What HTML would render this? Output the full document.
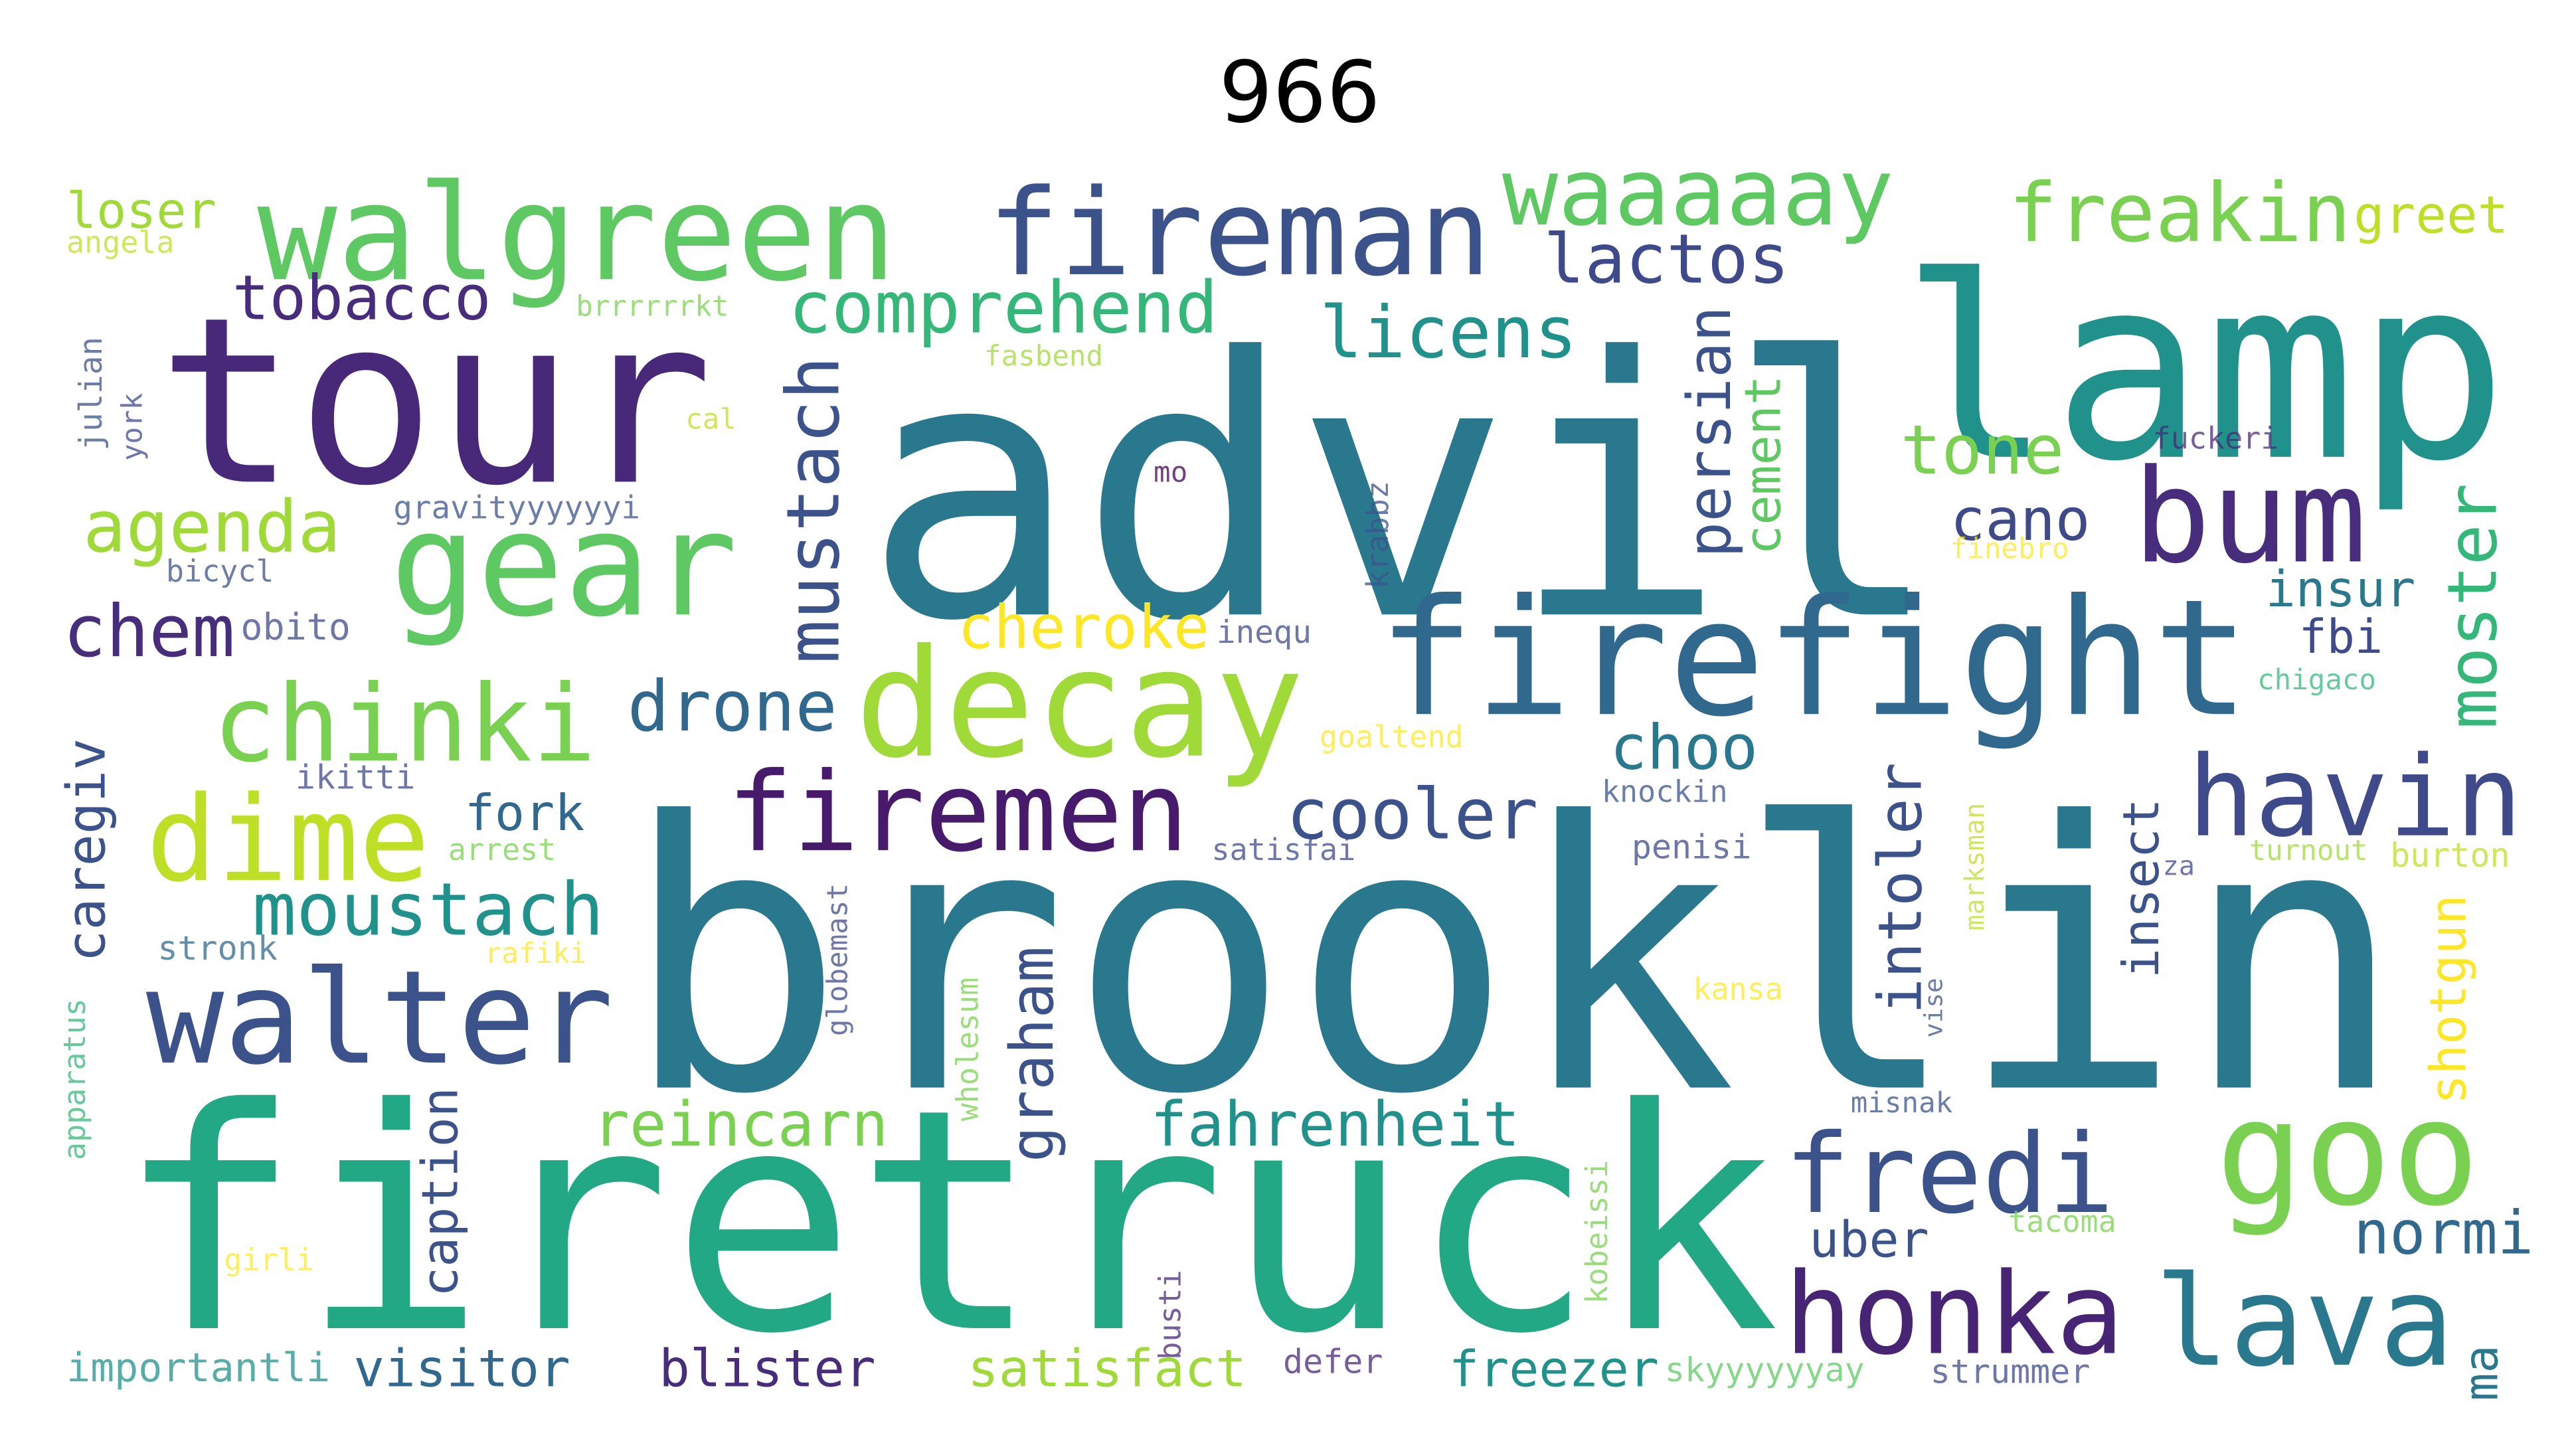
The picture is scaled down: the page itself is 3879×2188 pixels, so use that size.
<!DOCTYPE html>
<html><head><meta charset="utf-8">
<style>
html,body{margin:0;padding:0;background:#fff;}
svg{display:block;}
</style></head>
<body>
<svg id="cloud" width="3879" height="2188" viewBox="0 0 1552 875" xmlns="http://www.w3.org/2000/svg">
<rect width="1552" height="875" fill="#fff"/>
<text x="783" y="73" text-anchor="middle" font-family="DejaVu Sans, Liberation Sans, sans-serif" font-size="51" fill="#000">966</text>
<g id="words"></g>
</svg>
<script>
// word, x, y, font size, color, rotation (0 = horizontal left/baseline, 1 = vertical, centered)
const words = ["brooklin","advil","firetruck","tour","lamp","walgreen","fireman","firefight","gear","decay","chinki","dime","firemen","walter","havin","bum","goo","fredi","honka","lava","waaaaay","freakin","greet","lactos","comprehend","tobacco","loser","angela","licens","persian","cement","tone","cano","moster","insur","fbi","chigaco","agenda","chem","obito","mustach","drone","cheroke","inequ","krabbz","fork","moustach","cooler","choo","knockin","penisi","intoler","insect","marksman","shotgun","turnout","burton","za","vise","kansa","misnak","caregiv","stronk","rafiki","arrest","ikitti","goaltend","satisfai","globemast","wholesum","graham","caption","apparatus","reincarn","fahrenheit","girli","busti","kobeissi","tacoma","uber","normi","importantli","visitor","blister","satisfact","defer","freezer","skyyyyyyay","strummer","ma","brrrrrrkt","fasbend","cal","julian","york","gravityyyyyyi","bicycl","mo","fuckeri","finebro"];
const xs = [375,520,70,95,1145,155,595,830,235,515,128,88,438,88,1318,1285,1335,1075,1075,1298,905,1210,1418,930,475,140,40,40,795,1030,1062,1145,1175,1490,1365,1385,1360,50,38,145,490,378,577,733,830,280,152,775,970,965,983,1145,1290,1190,1475,1355,1440,1303,1165,1020,1115,52,95,292,270,178,795,730,505,583,622,265,45,357,693,135,705,962,1210,1090,1418,40,213,397,583,773,873,1003,1163,1495,347,593,413,55,80,237,100,695,1297,1175];
const ys = [655,370,800,290,275,168,165,430,370,455,458,530,512,640,503,338,725,730,815,822,135,145,140,170,200,192,137,152,215,260,280,285,325,365,365,393,415,332,395,385,307,440,390,387,322,500,563,505,463,483,517,535,535,522,602,518,522,527,607,602,670,512,578,580,518,475,450,518,578,632,635,718,650,690,690,765,792,742,742,757,755,832,835,835,835,827,835,832,833,827,190,220,258,237,257,312,350,290,270,336];
const sizes = [223,216,185,139,152,80,72,97,87,90,64,71,66,78,67,78,88,66,68,75,56,49,31,41,43,37,30,18,43,36,30,41,35,41,30,28,17,43,43,22,44,42,36,19,18,30,44,42,37,18,20,36,30,16,30,17,20,16,15,18,17,32,20,17,18,20,18,18,17,18,36,30,18,37,37,18,18,18,18,30,36,24,31,31,31,20,30,20,20,28,17,17,17,19,17,19,18,17,18,17];
const colors = ["#2a788e","#2a788e","#22a884","#482878","#21918c","#5ec962","#3b528b","#31688e","#5ec962","#a0da39","#7ad151","#bddf26","#481a6c","#3b528b","#3e4a89","#472d7b","#7ad151","#3b528b","#482475","#2a788e","#5ec962","#7ad151","#bddf26","#3e4a89","#35b779","#472d7b","#a0da39","#bddf26","#21918c","#3b528b","#5ec962","#7ad151","#3e4a89","#35b779","#2a788e","#3e4a89","#35b779","#a0da39","#472d7b","#3e4a89","#3b528b","#31688e","#fde725","#3e4a89","#3b528b","#31688e","#21918c","#3b528b","#2a788e","#3b528b","#3e4a89","#3b528b","#3b528b","#bddf26","#fde725","#a0da39","#bddf26","#3e4a89","#3b528b","#fde725","#3b528b","#3b528b","#31688e","#fde725","#7ad151","#3e4a89","#fde725","#3e4a89","#3e4a89","#7ad151","#3b528b","#3b528b","#35b779","#7ad151","#21918c","#fde725","#482878","#7ad151","#7ad151","#3b528b","#31688e","#21918c","#31688e","#472d7b","#a0da39","#482878","#21918c","#5ec962","#3e4a89","#2a788e","#7ad151","#a0da39","#bddf26","#3b528b","#3e4a89","#3b528b","#3b528b","#440154","#482878","#fde725"];
const rot = [0,0,0,0,0,0,0,0,0,0,0,0,0,0,0,0,0,0,0,0,0,0,0,0,0,0,0,0,0,1,1,0,0,1,0,0,0,0,0,0,1,0,0,0,1,0,0,0,0,0,0,1,1,1,1,0,0,0,1,0,0,1,0,0,0,0,0,0,1,1,1,1,1,0,0,0,1,1,0,0,0,0,0,0,0,0,0,0,0,1,0,0,0,1,1,0,0,0,0,0];

const g = document.getElementById('words');
const NS = 'http://www.w3.org/2000/svg';
for (let i = 0; i < words.length; i++) {
  const t = document.createElementNS(NS, 'text');
  
  
  t.setAttribute('font-family', 'DejaVu Sans Mono, Liberation Mono, monospace');
  t.setAttribute('font-size', sizes[i]);
  t.setAttribute('fill', colors[i]);
  if (sizes[i] < 25) t.setAttribute('fill-opacity', '0.75');
  if (rot[i]) {
    t.setAttribute('x', 0);
    t.setAttribute('y', 0);
    t.setAttribute('text-anchor', 'middle');
    t.setAttribute('dominant-baseline', 'central');
    t.setAttribute('transform', 'translate(' + xs[i] + ',' + ys[i] + ') rotate(-90)');
  } else {
    t.setAttribute('x', xs[i]);
    t.setAttribute('y', ys[i]);
    t.setAttribute('textLength', (sizes[i] * 0.602 * words[i].length).toFixed(1));
  }
  t.textContent = words[i];
  g.appendChild(t);
}
</script>
</body></html>
